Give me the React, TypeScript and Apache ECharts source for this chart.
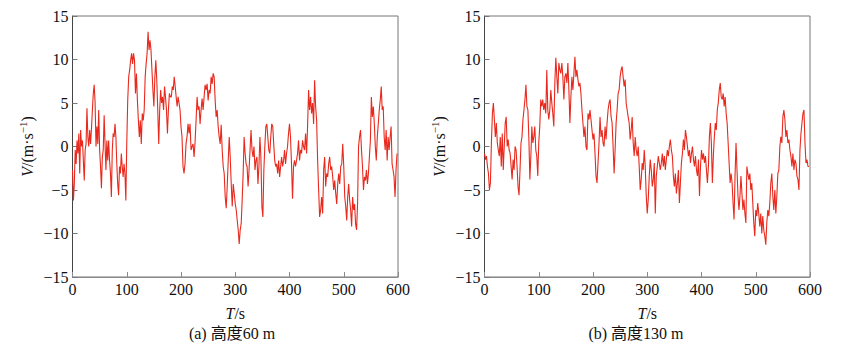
import React, { useEffect, useRef } from "react";
import * as echarts from "echarts";

// Panel (a) 60 m : wind speed fluctuation V (m/s), six 100-s segments
const a000 = [-2.7, -6.2, -4.3, -0.4, -2, 0.7, -0.8, 1.5, -3.1, 1.9, 0, 0.7, -1.6, -3.9, -0.4, 0.3, 4.4, 1.1, 0, 1.9, 0.3, 2.1, 4.2, 6.1, 7.1, 5.0, 0, 2.3, 0.3, 4.2, -0.4, -2.3, -4.8, -1.2, -0.4, 3.6, 0.3, -2.7, 0.7, -1.6, 0.7, -1.6, -3.1, -5.8, -0.4, 1.5, 1.1, 2.6, 1.1, -2, -4.3, -5.6, -2.3, -3.1, -0.8, -2.3, -3.5, -2, -3.1, -6.2];
const a100 = [0.3, 5.3, 8, 8.8, 9.9, 10.7, 9.5, 10.7, 9.9, 6.1, 8.4, 5.3, 3, 1.1, 3, 0.3, 3.8, 3, 4.2, 8, 9.5, 10.7, 13.2, 11.1, 12.2, 11.1, 8.8, 6.5, 4.6, 8, 9.9, 7.6, 4.2, 0.3, 4.2, 6.5, 5, 5.7, 4.2, 6.9, 5.7, 4.2, 1.5, 4.2, 6.1, 5.7, 5.7, 6.9, 6.5, 8, 6.9, 5.7, 4.6, 5.7, 5, 4.2];
const a200 = [2.3, 1.1, -2.3, -3.1, -2, 0.3, 1.1, 2.6, 1.5, 2.6, -0.4, 0, 0.3, -1.2, 0.5, 3, 5.7, 4.2, 4.6, 2.6, 4.2, 5.5, 4.2, 5.7, 7.1, 6.5, 7.2, 5.3, 6.5, 6.1, 8, 7.2, 8.4, 8, 5.3, 3.4, 4.2, 2.3, 1.1, 0.3, 2.5, -0.4, -2.3, -3.1, -5.8, -7.1, -4.6, -1.6, 1.1, -1.2, -4.3, -6.9, -4.3, -5.4];
const a300 = [-6.6, -7.3, -8.5, -9.6, -11.2, -9.6, -8.9, -6.2, -3.1, 1.1, -0.8, -2, -2.3, -4.6, -2.7, -0.4, 1.9, -0.4, -1.2, 0, -2.7, -1.6, -1.2, -4.3, -2.3, 1.1, -1.2, -6.9, -8.1, -2.7, 0, 2.3, 2.6, 1.1, -0.4, -0.8, 1.1, 2.6, 2.3, 0.3, -1.6, -2.3, -2, -3.1, -1.6, -3.5, -2.3, -1.2, -2.3, -1.6, -0.4, -2, -0.8, 0, 1.5];
const a400 = [2.6, 1.1, -2, -6, -2.3, -1.6, -2.3, -1.6, -0.8, 0.7, -1.6, -0.4, -0.8, 0.7, 0, -0.4, 1.5, -0.8, 2.3, 6.5, 4.2, 5.7, 3.8, 5, 2.6, 7.6, 4.6, 3, -1.6, -5, -8.1, -7.3, -5.8, -7.7, -2.7, -1.2, -4.6, -3.1, -3.5, -2, -1.2, -2.7, -2.3, -3.5, -5, -3.9, -5.4, -6.6, -4.3, -3.1, -4.3, -2.3, -2, 0.3];
const a500 = [-2.3, -5.8, -6.9, -8.5, -5.8, -4.3, -6.2, -7.3, -9.2, -5.8, -7.3, -6.6, -8.9, -9.6, -6.6, 0, 1.1, 1.9, -0.4, -2.3, -5, -3.5, -3.9, -2.7, -4.3, -3.1, -1.2, 0.7, 5.7, 3.4, 4.6, 2.6, 0, -1.6, 1.1, 2.6, 4.2, 5.3, 6.9, 4.2, 4.6, 1.1, -0.4, 1.9, -1.6, 1.1, -0.4, 1.1, 2.3, -2, -2.7, -3.5, -5.8, -2.7, -0.8];

// Panel (b) 130 m
const b000 = [-0.8, -1.5, -1.1, -2.3, -3.1, -5, -4.2, 0.4, 3.8, 5, 3.1, 1.1, 2.7, 0.4, -0.4, -1.1, 1.1, -2.3, 1.5, -2.7, 0, 2.7, 3.4, 0, 0.8, -0.4, -0.8, -2.3, -3.8, -1.5, -2.7, 0, -0.4, -2.3, -4.6, -5.6, -2.7, 0.4, 1.1, 3.1, 4.2, 5.4, 7.1, 4.6, 4.2, 0.8, -3.8, -1.1, 2.3, 0.4, 1.1, 2.3, -0.4, -1.1, -3.4];
const b100 = [0.4, 2.3, 5.4, 4.6, 5.4, 4.2, 5, 3.8, 8.8, 4.2, 3.1, 4.2, 6.5, 5, 3.8, 2.3, 7.3, 10.2, 8, 6.1, 9.6, 8.8, 8.4, 9.6, 8, 5.4, 8, 8.4, 7.3, 9.6, 6.5, 2.7, 5.7, 8, 6.5, 8.4, 10.3, 8, 8.8, 7.7, 6.9, 7.3, 6.1, 4.2, 2.7, 1.1, 2.3, 0, -0.4, 3.8, 3.1, 4.2, 3.1, 1.9];
const b200 = [0.8, 1.5, -0.8, -3.4, -4.2, -1.9, 0.4, 3.4, 1.1, 1.9, 0.4, 0, 2.3, 0.8, 2.7, 4.2, 5, 5.4, 3.4, 2.7, 0, -3.1, -0.4, 2.7, 4.2, 6.1, 6.5, 8, 8.8, 9.2, 8, 6.9, 7.7, 5, 4.2, 3.4, 2.7, 0.8, 1.9, 3.4, 0.4, -1.1, 1.1, -0.4, -1.1, 0, -2.3, -5, -3.8, -1.9, -2.7, -0.4, -2.3, -5.7];
const b300 = [-7.7, -6.1, -3.4, -1.5, -2.7, -4.6, -3.8, -1.9, -7.7, -3.4, -2.3, -1.1, -1.9, -2.7, -1.9, -0.8, -2.3, -1.1, -2.7, -1.5, -0.4, -1.1, 0, 0.8, -0.4, -1.1, -3.4, -4.6, -3.1, -5.4, -4.2, -2.7, -6.5, -4.2, -1.9, -0.8, 0.8, -0.4, 1.9, 1.1, 0, -1.1, -0.4, -1.9, -0.8, 0, -1.5, -2.3, -1.1, -2.7, -3.4, -1.5, -5.7, -2.3];
const b400 = [-0.4, -1.5, -0.8, -1.9, -1.1, -2.7, -4.2, -2.3, 1.1, 2.7, 0.4, -4.2, -1.1, 1.1, 2.7, 1.9, 4.2, 5, 6.5, 7.3, 5.7, 5.4, 6.1, 4.6, 5.7, 3.8, 2.7, 0.4, -1.9, -4.2, -3.1, -4.2, -6.5, -8.4, -3.4, 0.4, -2.7, -5.7, -7.3, -5.7, -3.4, -5.4, -7.3, -6.1, -7.7, -8.8, -2.3, -3.1, -3.8, -3.1, -5, -4.2, -6.5, -8.8, -10.3];
const b500 = [-7.3, -8, -6.5, -7.7, -9.2, -7.7, -10, -8, -9.6, -10.3, -11.3, -8.8, -7.3, -8, -6.5, -4.2, -3.1, -5.7, -7.3, -5, -7.7, -5.7, -3.1, -2.7, 0, 1.1, 0.4, 3.4, 4.2, 3.1, 1.1, 1.9, 0.4, 0.8, -0.4, -1.1, -2.3, -0.8, -2.7, -1.5, -1.9, -3.4, -3.8, -5, -0.4, 1.5, 2.7, 3.8, 4.2, 0.4, -1.9, -1.5, -2.3, -2.3];

const segmentsA = [a000, a100, a200, a300, a400, a500];
const segmentsB = [b000, b100, b200, b300, b400, b500];
const segStarts = [0, 100, 200, 300, 400, 500];
const segLength = 100;

const xTicks = { min: 0, max: 600, interval: 100 };
const yTicks = { min: -15, max: 15, interval: 5 };
const captions = ["(a) 高度60 m", "(b) 高度130 m"];

function toPoints(segs: number[][]) {
  const pts: number[][] = [];
  segs.forEach((seg, k) => {
    seg.forEach((v, i) => {
      pts.push([segStarts[k] + (i * segLength) / seg.length, v]);
    });
  });
  return pts;
}

const SERIF = "'Liberation Serif', 'Times New Roman', serif";
const FS = 16;
const fmt = (v: number) => (v < 0 ? "\u2212" + Math.abs(v) : String(v));

// page offset of the body margin
const OFF = 8;

export default function App() {
  const ref = useRef<HTMLDivElement>(null);
  useEffect(() => {
    if (!ref.current) return;
    const chart = echarts.init(ref.current, null, { renderer: "svg" });
    const grids = [
      { left: 72.5 - OFF, top: 16 - OFF, width: 325.5, height: 261 },
      { left: 484.5 - OFF, top: 16 - OFF, width: 325.5, height: 261 },
    ];
    const xAxis = grids.map((_, i) => ({
      type: "value",
      gridIndex: i,
      ...xTicks,
      axisLine: { show: true, onZero: false, lineStyle: { color: "#8a8a8a", width: 1 } },
      axisTick: { show: true, inside: true, length: 5, lineStyle: { color: "#8a8a8a" } },
      axisLabel: { color: "#111", fontSize: FS, margin: 4, fontFamily: SERIF, formatter: fmt },
      splitLine: { show: false },
      name: "{i|T}/s",
      nameLocation: "middle",
      nameGap: 28,
      nameTextStyle: {
        color: "#111",
        fontSize: FS,
        fontFamily: SERIF,
        rich: { i: { fontStyle: "italic", fontSize: FS, fontFamily: SERIF, color: "#111" } },
      },
    }));
    const yAxis = grids.map((_, i) => ({
      type: "value",
      gridIndex: i,
      ...yTicks,
      axisLine: { show: true, onZero: false, lineStyle: { color: "#444", width: 1 } },
      axisTick: { show: true, inside: true, length: 5, lineStyle: { color: "#777" } },
      axisLabel: { color: "#111", fontSize: FS, margin: 4, fontFamily: SERIF, formatter: fmt },
      splitLine: { show: false },
      name: "{i|V}/(m·s{s|\u22121})",
      nameLocation: "middle",
      nameRotate: 90,
      nameGap: 36,
      nameTextStyle: {
        color: "#111",
        fontSize: FS,
        fontFamily: SERIF,
        rich: {
          i: { fontStyle: "italic", fontSize: FS, fontFamily: SERIF, color: "#111" },
          s: { fontSize: 11, fontFamily: SERIF, color: "#111", verticalAlign: "top", padding: [0, 0, 8, 0] },
        },
      },
    }));
    const series = [segmentsA, segmentsB].map((segs, i) => ({
      type: "line",
      xAxisIndex: i,
      yAxisIndex: i,
      data: toPoints(segs),
      showSymbol: false,
      symbol: "none",
      lineStyle: { color: "#e9291d", width: 1.1 },
    }));
    const centers = [232, 636];
    chart.setOption({
      animation: false,
      backgroundColor: "#fff",
      grid: grids.map((g) => ({ ...g, show: true, borderColor: "#777", borderWidth: 1, backgroundColor: "transparent" })),
      xAxis,
      yAxis,
      series,
      graphic: captions.map((c, i) => ({
        type: "text",
        x: centers[i] - OFF,
        y: 333 - OFF,
        style: {
          text: c,
          fontSize: FS,
          fontFamily: "'Liberation Serif', 'Noto Sans CJK SC', serif",
          fill: "#111",
          textAlign: "center",
          textVerticalAlign: "middle",
        },
      })),
    });
    return () => chart.dispose();
  }, []);
  return <div ref={ref} style={{ width: 839, height: 341 }} />;
}
